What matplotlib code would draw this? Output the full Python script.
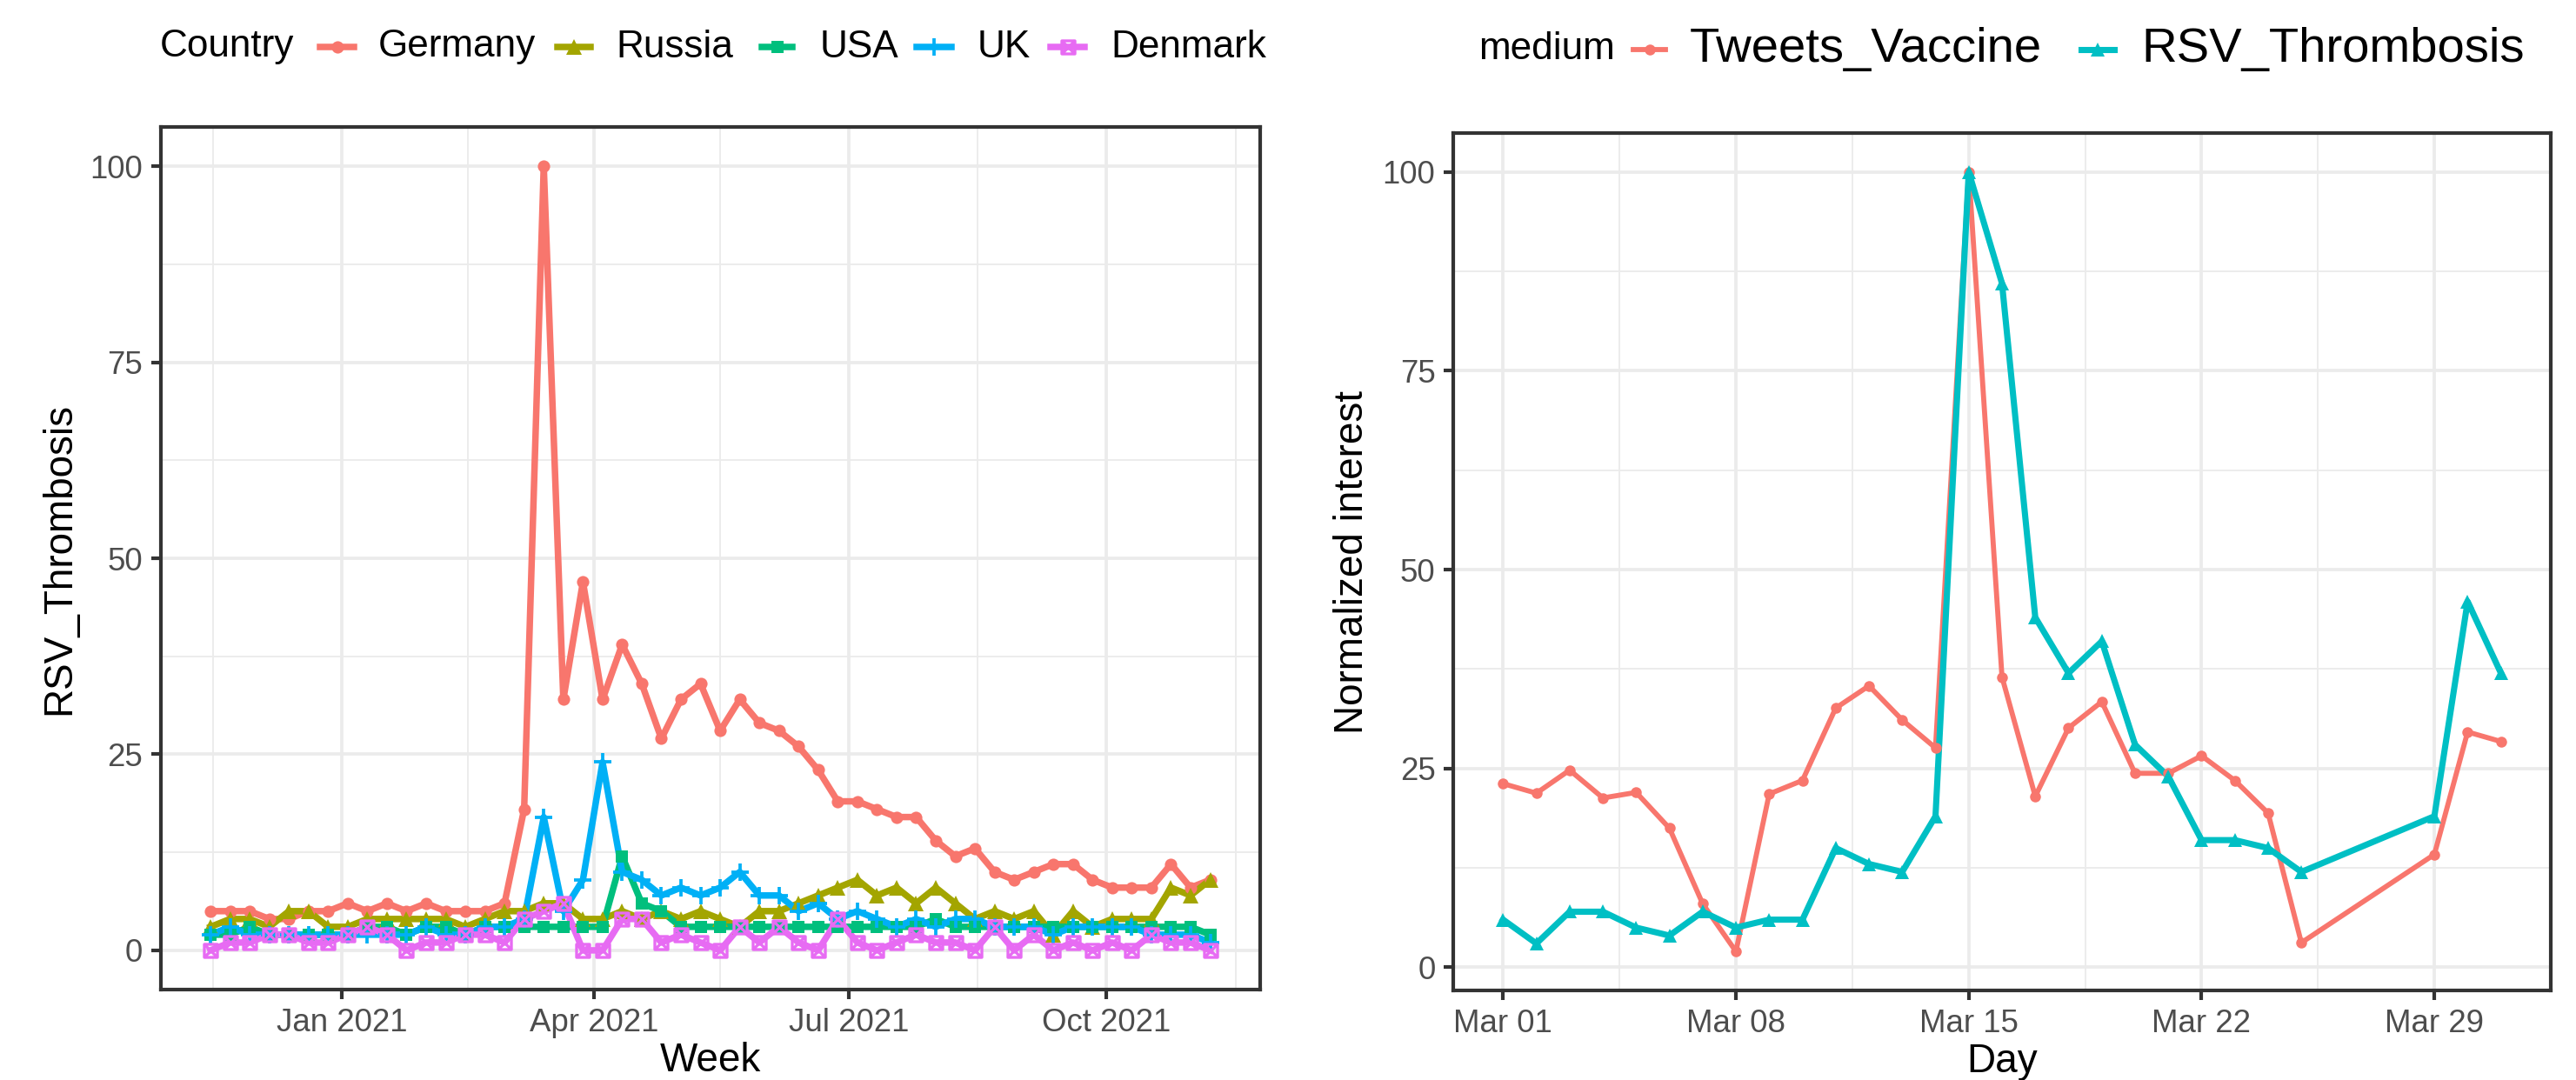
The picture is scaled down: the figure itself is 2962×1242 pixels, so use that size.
import matplotlib
matplotlib.use("Agg")
import matplotlib.pyplot as plt
import matplotlib.dates as mdates
from matplotlib.lines import Line2D
from matplotlib.path import Path
import pandas as pd

plt.rcParams['font.family'] = ['Liberation Sans', 'DejaVu Sans']

# weekly search interest per country
countries = ["Germany", "Russia", "USA", "UK", "Denmark"]
germany = [5, 5, 5, 4, 4, 5, 5, 6, 5, 6, 5, 6, 5, 5, 5, 6, 18, 100, 32, 47, 32, 39, 34, 27, 32, 34,
           28, 32, 29, 28, 26, 23, 19, 19, 18, 17, 17, 14, 12, 13, 10, 9, 10, 11, 11, 9, 8, 8, 8, 11, 8, 9]
russia = [3, 4, 4, 3, 5, 5, 3, 3, 4, 4, 4, 4, 4, 3, 4, 5, 5, 6, 6, 4, 4, 5, 4, 5, 4, 5,
          4, 3, 5, 5, 6, 7, 8, 9, 7, 8, 6, 8, 6, 4, 5, 4, 5, 2, 5, 3, 4, 4, 4, 8, 7, 9]
usa = [2, 2, 3, 2, 2, 2, 2, 2, 3, 3, 2, 3, 3, 2, 3, 3, 3, 3, 3, 3, 3, 12, 6, 5, 3, 3,
       3, 3, 3, 3, 3, 3, 3, 3, 3, 3, 3, 4, 3, 3, 3, 3, 3, 3, 3, 3, 3, 3, 3, 3, 3, 2]
uk = [2, 3, 2, 2, 2, 2, 2, 2, 2, 2, 2, 3, 2, 2, 3, 3, 4, 17, 5, 9, 24, 10, 9, 7, 8, 7,
      8, 10, 7, 7, 5, 6, 4, 5, 4, 3, 4, 3, 4, 4, 3, 3, 3, 2, 3, 3, 3, 3, 2, 2, 2, 1]
denmark = [0, 1, 1, 2, 2, 1, 1, 2, 3, 2, 0, 1, 1, 2, 2, 1, 4, 5, 6, 0, 0, 4, 4, 1, 2, 1,
           0, 3, 1, 3, 1, 0, 4, 1, 0, 1, 2, 1, 1, 0, 3, 0, 2, 0, 1, 0, 1, 0, 2, 1, 1, 0]
first_week = "2020-11-15"

# daily normalized interest, March 2021
media_names = ["Tweets_Vaccine", "RSV_Thrombosis"]
march_days = [1, 2, 3, 4, 5, 6, 7, 8, 9, 10, 11, 12, 13, 14, 15, 16, 17, 18, 19, 20,
              21, 22, 23, 24, 25, 29, 30, 31]
tweets_vaccine = [23.1, 21.9, 24.8, 21.3, 22.0, 17.5, 8.0, 2.0, 21.8, 23.5, 32.6, 35.4, 31.1, 27.6,
                  100, 36.5, 21.5, 30.1, 33.4, 24.4, 24.4, 26.6, 23.5, 19.4, 3.1, 14.2, 29.6, 28.4]
rsv_thrombosis = [6, 3, 7, 7, 5, 4, 7, 5, 6, 6, 15, 13, 12, 19, 100, 86, 44, 37, 41, 28,
                  24, 16, 16, 15, 12, 19, 46, 37]

hue5 = ["#F8766D", "#A3A500", "#00BF7D", "#00B0F6", "#E76BF3"]
hue2 = ["#F8766D", "#00BFC4"]

# square with a cross inside (R shape 7)
sq_x = Path([(-1, -1), (1, -1), (1, 1), (-1, 1), (-1, -1), (-1, -1), (1, 1), (-1, 1), (1, -1)],
            [Path.MOVETO, Path.LINETO, Path.LINETO, Path.LINETO, Path.CLOSEPOLY,
             Path.MOVETO, Path.LINETO, Path.MOVETO, Path.LINETO])

country_marks = [
    dict(marker="o", ms=3.4, mew=0),
    dict(marker="^", ms=4.1, mew=0),
    dict(marker="s", ms=3.3, mew=0),
    dict(marker="+", ms=5.0, mew=0.9),
    dict(marker=sq_x, ms=3.6, mew=0.8, mfc="none"),
]
medium_marks = [
    dict(marker="o", ms=3.0, mew=0),
    dict(marker="^", ms=3.8, mew=0),
]
country_lw = 1.8
medium_lw = [1.4, 1.7]

W, H = 2962, 1242
fig = plt.figure(figsize=(W / 300, H / 300), dpi=300)
ax1 = fig.add_axes([184.6 / W, 1 - 1138 / H, (1449 - 184.6) / W, (1138 - 146) / H])
ax2 = fig.add_axes([1671 / W, 1 - 1139 / H, (2933 - 1671) / W, (1139 - 153) / H])


def style_axes(ax):
    for s in ax.spines.values():
        s.set_color("#333333")
        s.set_linewidth(1.0)
    ax.set_axisbelow(True)
    ax.grid(which="major", color="#EBEBEB", lw=0.9)
    ax.grid(which="minor", color="#EBEBEB", lw=0.45)
    ax.tick_params(which="major", length=2.75, width=1.0, color="#333333",
                   labelsize=8.8, labelcolor="#4D4D4D", pad=2.2)
    ax.tick_params(which="minor", length=0)
    ax.set_yticks([0, 25, 50, 75, 100])
    ax.set_yticks([12.5, 37.5, 62.5, 87.5], minor=True)


def marker_kw(mk, c):
    kw = dict(mk)
    kw.setdefault("mfc", c)
    kw["mec"] = c
    return kw


def legend_row(y, title, title_x, entries, size):
    # entries: (label, colour, linewidth, marker dict, key x0, key x1, text x) in pixels
    fig.text(title_x / W, 1 - y / H, title, fontsize=10.6, va="center", ha="left")
    for label, c, lw, mk, x0, x1, tx in entries:
        yy = [1 - y / H] * 2
        fig.add_artist(Line2D([x0 / W, x1 / W], yy, color=c, lw=lw,
                              transform=fig.transFigure))
        fig.add_artist(Line2D([(x0 + x1) / 2 / W], yy[:1], ls="none", color=c,
                              transform=fig.transFigure, **marker_kw(mk, c)))
        fig.text(tx / W, 1 - y / H, label, fontsize=size, va="center", ha="left")


# left: weekly series per country
weeks = pd.date_range(first_week, periods=len(germany), freq="7D")
series = [germany, russia, usa, uk, denmark]
for vals, c in zip(series, hue5):
    ax1.plot(weeks, vals, color=c, lw=country_lw, zorder=2)
for vals, c, mk in zip(series, hue5, country_marks):
    ax1.plot(weeks, vals, ls="none", color=c, zorder=3, **marker_kw(mk, c))

style_axes(ax1)
ax1.xaxis.set_major_locator(mdates.MonthLocator(bymonth=[1, 4, 7, 10]))
ax1.xaxis.set_major_formatter(mdates.DateFormatter("%b %Y"))
ax1.set_xticks(pd.to_datetime(["2020-11-16", "2021-02-15", "2021-05-16",
                               "2021-08-16", "2021-11-16"]), minor=True)
wspan = weeks[-1] - weeks[0]
ax1.set_xlim(weeks[0] - wspan * 0.05, weeks[-1] + wspan * 0.05)
ax1.set_ylim(-5, 105)
ax1.set_xlabel("Week", fontsize=11, labelpad=1)
ax1.set_ylabel("RSV_Thrombosis", fontsize=11, labelpad=3)

# right: daily tweets vs search interest
days = pd.to_datetime([f"2021-03-{d:02d}" for d in march_days])
media = [tweets_vaccine, rsv_thrombosis]
for vals, c, lw in zip(media, hue2, medium_lw):
    ax2.plot(days, vals, color=c, lw=lw, zorder=2)
for vals, c, mk in zip(media, hue2, medium_marks):
    ax2.plot(days, vals, ls="none", color=c, zorder=3, **marker_kw(mk, c))

style_axes(ax2)
ax2.set_xticks(pd.to_datetime(["2021-03-01", "2021-03-08", "2021-03-15",
                               "2021-03-22", "2021-03-29"]))
ax2.xaxis.set_major_formatter(mdates.DateFormatter("%b %d"))
ax2.set_xticks(pd.to_datetime(["2021-03-04 12:00", "2021-03-11 12:00",
                               "2021-03-18 12:00", "2021-03-25 12:00"]), minor=True)
dspan = days[-1] - days[0]
ax2.set_xlim(days[0] - dspan * 0.05, days[-1] + dspan * 0.05)
lo, hi = min(min(tweets_vaccine), min(rsv_thrombosis)), 100
ax2.set_ylim(lo - (hi - lo) * 0.05, hi + (hi - lo) * 0.05)
ax2.set_xlabel("Day", fontsize=11, labelpad=1)
ax2.set_ylabel("Normalized interest", fontsize=11, labelpad=3)

# legends across the top
key_x = [(368, 407, 435), (641, 679, 708), (876, 911, 943), (1054, 1094, 1124), (1208, 1247, 1277)]
legend_row(54, "Country", 184,
           [(n, c, country_lw, mk, *k) for n, c, mk, k in zip(countries, hue5, country_marks, key_x)],
           10.6)
key_x2 = [(1878, 1915, 1943), (2393, 2431, 2462)]
legend_row(57, "medium", 1700,
           [(n, c, lw, mk, *k) for n, c, lw, mk, k in zip(media_names, hue2, medium_lw,
                                                          medium_marks, key_x2)],
           13.5)

fig.savefig("out.png", dpi=300)
